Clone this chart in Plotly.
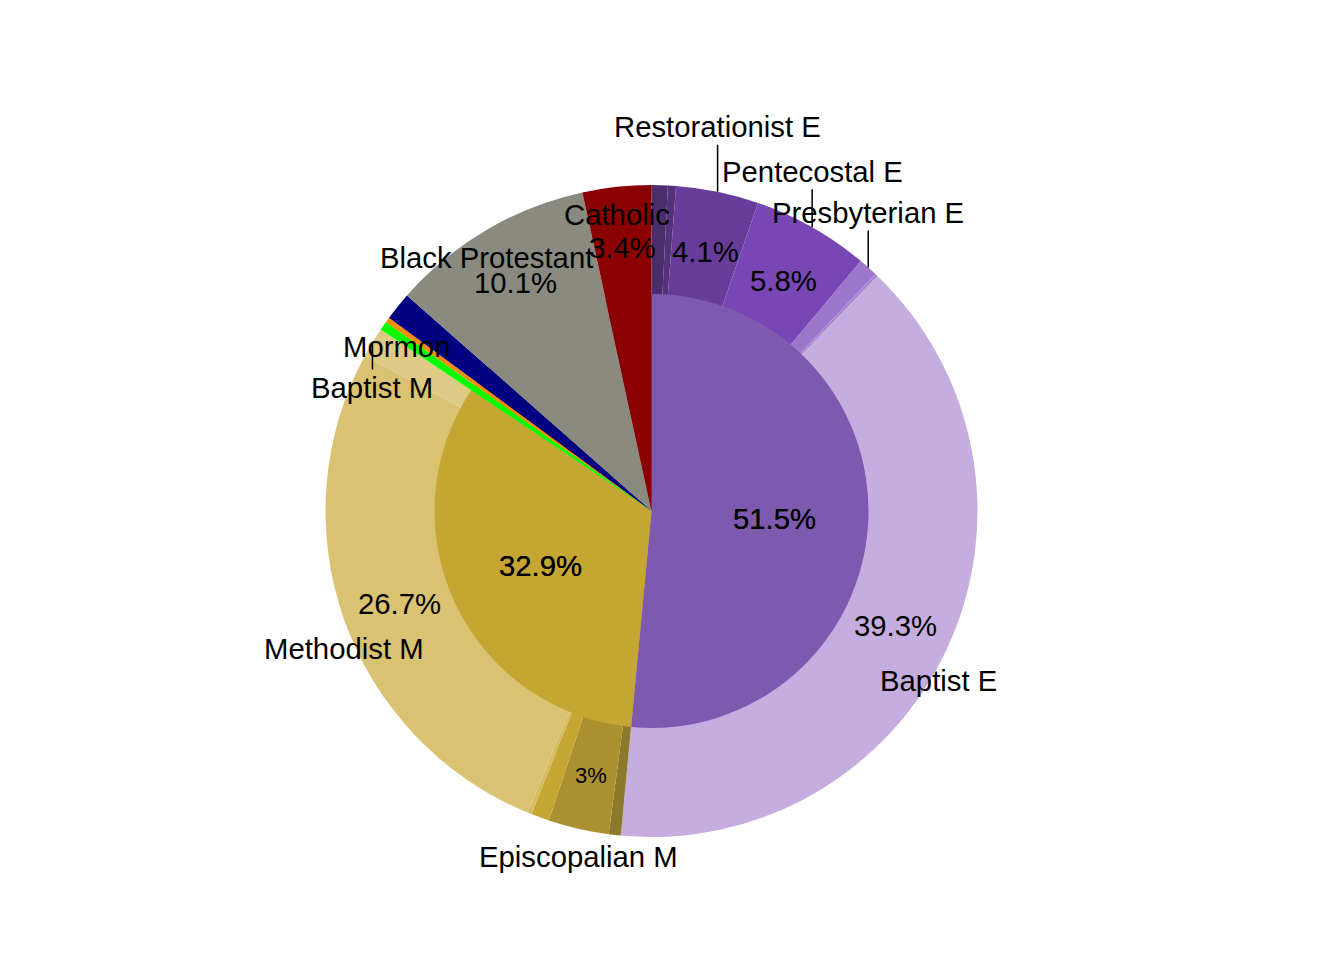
import math
import plotly.graph_objects as go

# ---------------- data ----------------
# outer ring (sub-groups), clockwise from 12 o'clock
outer_labels = ["Nondenominational E", "Holiness E", "Restorationist E", "Pentecostal E",
                "Presbyterian E", "Lutheran E", "Baptist E",
                "Lutheran M", "Episcopalian M", "Presbyterian M", "Congregational M",
                "Methodist M", "Baptist M",
                "Mormon", "Orthodox", "Other Christian", "Black Protestant", "Catholic"]
outer_values = [0.8, 0.4, 4.1, 5.8, 0.95, 0.15, 39.3,
                0.6, 3.0, 0.9, 0.2, 26.7, 1.5,
                0.45, 0.25, 1.4, 10.1, 3.4]
outer_pct = ["", "", "4.1%", "5.8%", "", "", "39.3%",
             "", "3%", "", "", "26.7%", "",
             "", "", "", "10.1%", "3.4%"]
outer_shown = ["", "", "Restorationist E", "Pentecostal E", "Presbyterian E", "", "Baptist E",
               "", "Episcopalian M", "", "", "Methodist M", "Baptist M",
               "Mormon", "", "", "Black Protestant", "Catholic"]

# inner pie (families)
inner_labels = ["Evangelical", "Mainline", "Mormon", "Orthodox", "Other Christian",
                "Black Protestant", "Catholic"]
inner_values = [51.5, 32.9, 0.45, 0.25, 1.4, 10.1, 3.4]
inner_pct = ["51.5%", "32.9%", "", "", "", "", ""]

# ---------------- styles ----------------
outer_colors = ["#4B2C6C", "#553277", "#673C9B", "#7946B5", "#9B76CA", "#A888D2", "#C5AEDF",
                "#8B7A2A", "#AB902F", "#C6A734", "#D4BC60", "#D9C372", "#DDCA84",
                "#00FF00", "#FF8C00", "#000080", "#8B8A81", "#8B0000"]
inner_colors = ["#7E59B0", "#C5A633", "#00FF00", "#FF8C00", "#000080", "#8B8A81", "#8B0000"]

# label placement style per outer slice
label_mode = ["", "", "up", "up", "up", "", "below",
              "", "below", "", "", "below", "down",
              "below", "", "", "below", "below"]
label_ay = {"Restorationist E": -65, "Pentecostal E": -56, "Presbyterian E": -55, "Baptist M": 45}
label_shift = {"Baptist E": (-9, -33), "Mormon": (13, -21)}

W, H = 1344, 960
CX, CY = 651.5, 511.0
R_OUT, R_IN = 326.0, 217.0
FONT = "Arial, 'Liberation Sans', sans-serif"
FS = 29.3

fig = go.Figure()

dom_out = dict(x=[(CX - R_OUT) / W, (CX + R_OUT) / W], y=[1 - (CY + R_OUT) / H, 1 - (CY - R_OUT) / H])
dom_in = dict(x=[(CX - R_IN) / W, (CX + R_IN) / W], y=[1 - (CY + R_IN) / H, 1 - (CY - R_IN) / H])

fig.add_trace(go.Pie(labels=outer_labels, values=outer_values, sort=False, direction="clockwise",
                     rotation=0, marker=dict(colors=outer_colors, line=dict(width=0)),
                     textinfo="none", domain=dom_out, showlegend=False, name="outer"))
fig.add_trace(go.Pie(labels=inner_labels, values=inner_values, sort=False, direction="clockwise",
                     rotation=0, marker=dict(colors=inner_colors, line=dict(width=0)),
                     textinfo="none", domain=dom_in, showlegend=False, name="inner"))


def mids(vals):
    tot = sum(vals)
    out, c = [], 0.0
    for v in vals:
        out.append((c + v / 2) / tot * 360.0)
        c += v
    return out


def pt(ang, r):
    a = math.radians(ang)
    return CX + r * math.sin(a), CY - r * math.cos(a)


def paper(x, y):
    return x / W, 1 - y / H


ann = []
# percentages on outer ring
for ang, txt in zip(mids(outer_values), outer_pct):
    if not txt:
        continue
    x, y = paper(*pt(ang, 268))
    size = 22 if len(txt) <= 2 else FS
    ann.append(dict(x=x, y=y, text=txt, showarrow=False, xanchor="center", yanchor="middle",
                    yshift=-3, font=dict(size=size, color="black", family=FONT)))

# percentages on inner pie (drawn twice, as in the original)
for ang, txt in zip(mids(inner_values), inner_pct):
    if not txt:
        continue
    x, y = paper(*pt(ang, 123))
    for _ in range(2):
        ann.append(dict(x=x, y=y, text=txt, showarrow=False, xanchor="center", yanchor="middle",
                        yshift=-2, font=dict(size=FS, color="black", family=FONT)))

# category labels
for ang, txt, mode in zip(mids(outer_values), outer_shown, label_mode):
    if not txt:
        continue
    x, y = paper(*pt(ang, R_OUT))
    if mode in ("up", "down"):
        ann.append(dict(x=x, y=y, text=txt, showarrow=True, arrowhead=0, arrowwidth=1.5,
                        arrowcolor="black", ax=0, ay=label_ay[txt], standoff=0,
                        font=dict(size=FS, color="black", family=FONT)))
    else:
        xs, ys = label_shift.get(txt, (0, -28))
        ann.append(dict(x=x, y=y, text=txt, showarrow=False, xanchor="center", yanchor="middle",
                        xshift=xs, yshift=ys, font=dict(size=FS, color="black", family=FONT)))

fig.update_layout(width=W, height=H, margin=dict(l=0, r=0, t=0, b=0),
                  paper_bgcolor="white", plot_bgcolor="white",
                  font=dict(family=FONT, size=FS, color="black"),
                  annotations=ann, showlegend=False)

fig.write_html("out.html", config={"displayModeBar": False},
               post_script="document.body.style.margin='0';document.body.style.overflow='hidden';")
